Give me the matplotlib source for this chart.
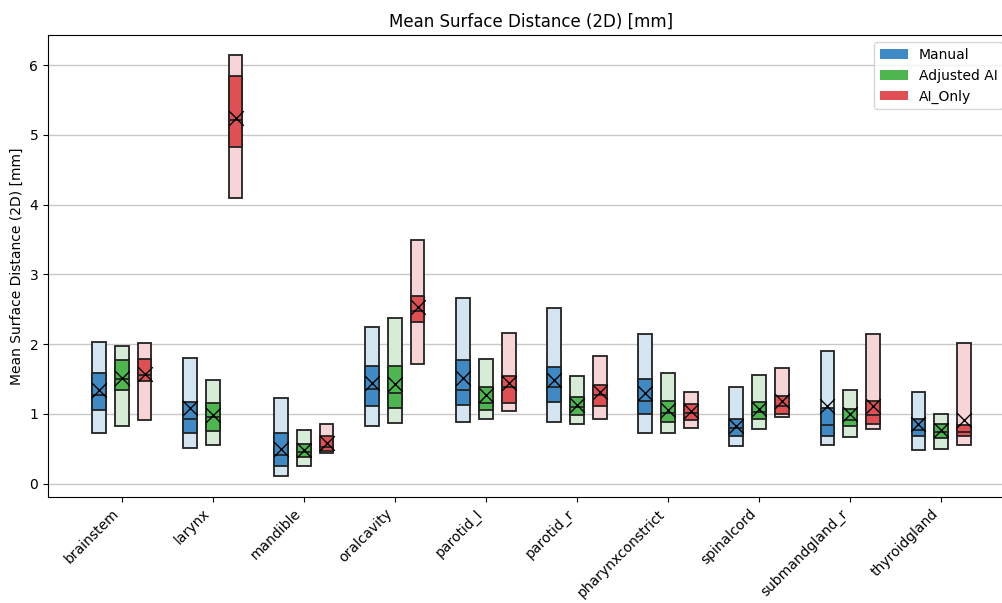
import matplotlib
matplotlib.use('Agg')
import matplotlib.pyplot as plt
from matplotlib.patches import Patch
import numpy as np

structures = ['brainstem', 'larynx', 'mandible', 'oralcavity', 'parotid_l',
              'parotid_r', 'pharynxconstrict', 'spinalcord', 'submandgland_r',
              'thyroidgland']
groups = ['Manual', 'Adjusted AI', 'AI_Only']

# light box low/high, dark box q1/q3, median line, mean marker
manual_lo = [0.73, 0.51, 0.11, 0.83, 0.88, 0.88, 0.72, 0.54, 0.55, 0.49]
manual_q1 = [1.06, 0.73, 0.25, 1.11, 1.13, 1.17, 1.00, 0.69, 0.69, 0.68]
manual_med = [1.27, 0.93, 0.41, 1.36, 1.35, 1.38, 1.18, 0.80, 0.84, 0.77]
manual_q3 = [1.59, 1.17, 0.73, 1.69, 1.78, 1.68, 1.50, 0.93, 1.09, 0.93]
manual_hi = [2.03, 1.80, 1.23, 2.25, 2.66, 2.52, 2.14, 1.39, 1.90, 1.32]
manual_mean = [1.35, 1.09, 0.50, 1.45, 1.52, 1.49, 1.30, 0.83, 1.12, 0.85]

adjusted_lo = [0.83, 0.55, 0.26, 0.87, 0.93, 0.85, 0.73, 0.78, 0.67, 0.50]
adjusted_q1 = [1.34, 0.75, 0.38, 1.08, 1.05, 0.99, 0.88, 0.93, 0.83, 0.66]
adjusted_med = [1.50, 0.96, 0.45, 1.30, 1.16, 1.10, 1.01, 1.03, 0.92, 0.74]
adjusted_q3 = [1.77, 1.16, 0.57, 1.69, 1.39, 1.25, 1.19, 1.17, 1.07, 0.86]
adjusted_hi = [1.97, 1.48, 0.77, 2.37, 1.79, 1.55, 1.59, 1.56, 1.35, 1.00]
adjusted_mean = [1.51, 0.98, 0.48, 1.43, 1.27, 1.13, 1.06, 1.07, 1.00, 0.77]

ai_lo = [0.91, 4.09, 0.44, 1.71, 1.04, 0.93, 0.80, 0.95, 0.78, 0.55]
ai_q1 = [1.47, 4.82, 0.47, 2.32, 1.16, 1.12, 0.92, 1.00, 0.85, 0.68]
ai_med = [1.56, 5.21, 0.53, 2.48, 1.39, 1.27, 1.02, 1.11, 0.99, 0.74]
ai_q3 = [1.79, 5.84, 0.69, 2.69, 1.55, 1.42, 1.14, 1.26, 1.18, 0.84]
ai_hi = [2.02, 6.14, 0.86, 3.50, 2.16, 1.83, 1.31, 1.66, 2.15, 2.01]
ai_mean = [1.57, 5.24, 0.58, 2.54, 1.44, 1.31, 1.04, 1.18, 1.11, 0.91]

stats = [
    (manual_lo, manual_q1, manual_med, manual_q3, manual_hi, manual_mean),
    (adjusted_lo, adjusted_q1, adjusted_med, adjusted_q3, adjusted_hi, adjusted_mean),
    (ai_lo, ai_q1, ai_med, ai_q3, ai_hi, ai_mean),
]
dark_colors = ['#3f8ac5', '#4db64e', '#e05052']
light_colors = ['#d3e5f1', '#d7ecd6', '#f7d5d6']
offsets = [-0.25, 0.0, 0.25]
width = 0.15

fig = plt.figure(figsize=(10.02, 6.03), dpi=100)
ax = fig.add_axes([0.0479, 0.1758, 0.965, 0.766])

x = np.arange(len(structures))
edge = '#222222'
for g in range(3):
    lo, q1, med, q3, hi, mean = [np.array(a) for a in stats[g]]
    pos = x + offsets[g]
    ax.bar(pos, hi - lo, width, bottom=lo, color=light_colors[g],
           edgecolor=edge, linewidth=1.3, zorder=2)
    ax.bar(pos, q3 - q1, width, bottom=q1, color=dark_colors[g],
           edgecolor=edge, linewidth=1.3, zorder=3)
    ax.hlines(med, pos - width / 2, pos + width / 2, color=edge,
              linewidth=1.3, zorder=4)
    ax.scatter(pos, mean, marker='x', s=110, color='black', linewidths=1.0,
               zorder=5)

ax.set_xticks(x)
ax.set_xticklabels(structures, rotation=45, ha='right', fontsize=10)
ax.set_ylabel('Mean Surface Distance (2D) [mm]')
ax.set_title('Mean Surface Distance (2D) [mm]', fontsize=12)
ax.yaxis.grid(True, color='#c8c8c8', linewidth=1.0)
ax.set_axisbelow(True)
ax.set_xlim(-0.81, 9.81)
ax.set_ylim(-0.19, 6.43)

handles = [Patch(facecolor=c, label=l) for c, l in zip(dark_colors, groups)]
ax.legend(handles=handles, loc='upper right', bbox_to_anchor=(0.995, 1.0),
          fontsize=10)

fig.savefig('out.png', dpi=100)
